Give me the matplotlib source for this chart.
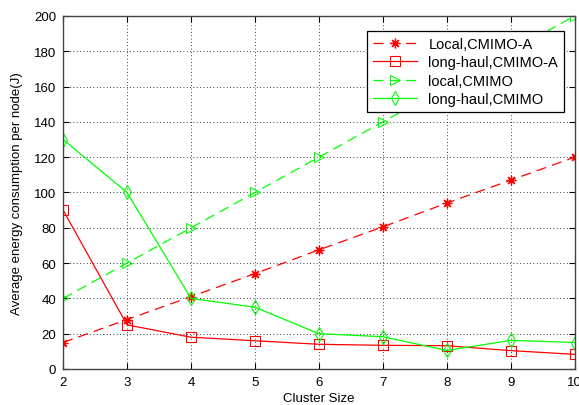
import matplotlib
matplotlib.use('Agg')
import matplotlib.pyplot as plt

plt.rcParams['font.family'] = ['Liberation Sans', 'DejaVu Sans']

cluster_size = [2, 3, 4, 5, 6, 7, 8, 9, 10]
local_cmimo_a = [15, 28, 41, 54, 67.5, 80.5, 94, 107, 120]
longhaul_cmimo_a = [90, 25, 18, 16, 14, 13.4, 13.2, 10.4, 8.3]
local_cmimo = [40, 60, 80, 100, 120, 140, 160, 180, 200]
longhaul_cmimo = [130, 100, 40, 35, 20, 18.3, 10.5, 16.2, 15]

fig = plt.figure(figsize=(5.79, 4.06), dpi=100)
ax = fig.add_axes([0.109, 0.0887, 0.8836, 0.8695])

dash = (0, (8, 5))
ax.plot(cluster_size, local_cmimo_a, color='#ff0000', linestyle=dash, lw=0.9,
        marker=(8, 2, 0), ms=7, mew=0.9, label='Local,CMIMO-A')
ax.plot(cluster_size, longhaul_cmimo_a, color='#ff0000', lw=0.9,
        marker='s', ms=7, mfc='none', mew=0.8, label='long-haul,CMIMO-A')
ax.plot(cluster_size, local_cmimo, color='#00ff00', linestyle=dash, lw=0.9,
        marker='>', ms=7, mfc='none', mew=0.8, label='local,CMIMO')
ax.plot(cluster_size, longhaul_cmimo, color='#00ff00', lw=0.9,
        marker='d', ms=7, mfc='none', mew=0.8, label='long-haul,CMIMO')

ax.set_xlim(2, 10)
ax.set_ylim(0, 200)
ax.set_xticks(range(2, 11))
ax.set_yticks(range(0, 201, 20))
ax.grid(True, color='black', linestyle=(0, (1, 3)), lw=0.6)
ax.tick_params(direction='in', top=True, right=True, labelsize=9.5, length=4, pad=5)
for s in ax.spines.values():
    s.set_color('#444444')
    s.set_linewidth(1.0)

ax.set_xlabel('Cluster Size', fontsize=9.5, labelpad=3)
ax.set_ylabel('Average energy consumption per node(J)', fontsize=9.5, labelpad=8)

leg = ax.legend(loc='upper right', fontsize=10.5, frameon=True, fancybox=False,
                edgecolor='black', framealpha=1, borderpad=0.4,
                handlelength=3.0, labelspacing=0.3, bbox_to_anchor=(0.993, 0.978))
leg.get_frame().set_linewidth(0.9)

fig.savefig('out.png', dpi=100, facecolor='white')
